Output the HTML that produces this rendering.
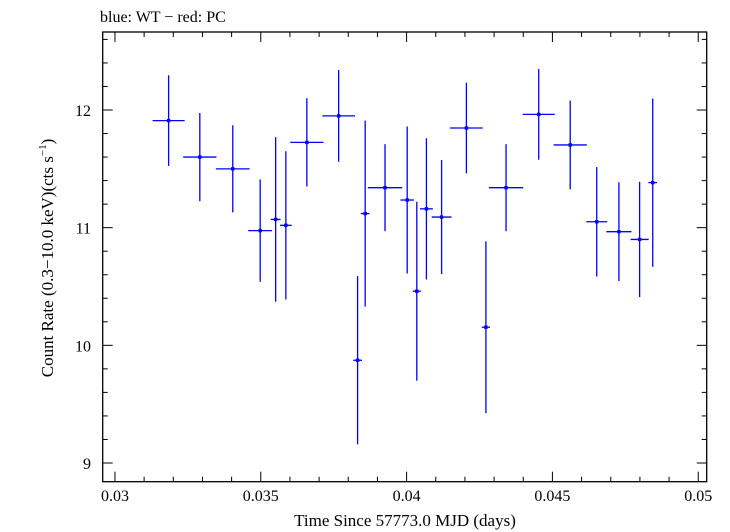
<!DOCTYPE html>
<html><head><meta charset="utf-8"><style>
html,body{margin:0;padding:0;background:#fff;}
svg{display:block;font-family:"Liberation Serif","DejaVu Serif",serif;}
</style></head><body>
<svg id="chart" width="730" height="532" viewBox="0 0 730 532" xmlns="http://www.w3.org/2000/svg">
<text x="100" y="22" font-size="16">blue: WT − red: PC</text>
<rect x="102.7" y="32" width="604" height="449.7" fill="none" stroke="#000" stroke-width="1.3"/>
<g id="ticks"></g>
<g id="marks"></g>
<text x="405" y="526" font-size="17" text-anchor="middle">Time Since 57773.0 MJD (days)</text>
<text transform="translate(53,258) rotate(-90)" font-size="17" text-anchor="middle">Count Rate (0.3−10.0 keV)(cts s<tspan font-size="11" dy="-7">−1</tspan><tspan dy="7">)</tspan></text>
</svg>
<script>
const xTicks = [0.03, 0.035, 0.04, 0.045, 0.05];
const xTickLabels = ["0.03", "0.035", "0.04", "0.045", "0.05"];
const yTicks = [9, 10, 11, 12];
const yTickLabels = ["9", "10", "11", "12"];
const times = [0.03184,0.03291,0.03404,0.03498,0.03551,0.03586,0.03658,0.03767,0.03832,0.03858,0.03926,0.04002,0.04035,0.04068,0.0412,0.04205,0.04272,0.04341,0.04453,0.04561,0.04652,0.04728,0.04799,0.04844];
const halfWidths = [0.00055,0.00057,0.00058,0.00041,0.00017,0.0002,0.00057,0.00056,0.00015,0.00015,0.00059,0.00023,0.00014,0.00022,0.00034,0.00056,0.00014,0.00059,0.00055,0.00057,0.00036,0.00043,0.00031,0.00015];
const rates = [11.91,11.60,11.50,10.975,11.07,11.02,11.725,11.95,9.873,11.12,11.34,11.235,10.46,11.16,11.09,11.847,10.154,11.34,11.963,11.703,11.05,10.966,10.90,11.383];
const rateErrs = [0.385,0.375,0.37,0.435,0.70,0.63,0.375,0.39,0.715,0.79,0.37,0.625,0.76,0.60,0.485,0.385,0.73,0.37,0.385,0.377,0.465,0.42,0.49,0.715];

const L=102.7,R=706.7,T=32,B=481.7;
const x0=0.02958,x1=0.05029,y0=8.841,y1=12.663;
const sx=v=>L+(v-x0)/(x1-x0)*(R-L);
const sy=v=>B-(v-y0)/(y1-y0)*(B-T);
const NS="http://www.w3.org/2000/svg";
function mk(tag,attrs,parent){const e=document.createElementNS(NS,tag);for(const k in attrs)e.setAttribute(k,attrs[k]);parent.appendChild(e);return e;}
const tg=document.getElementById('ticks');
// minor x ticks
for(let i=30;i<=50;i++){const v=i/1000;const X=sx(v);const major=i%5===0;const len=major?10:5;
 const a=mk('line',{x1:X,x2:X,y1:B,y2:B-len,stroke:'#000','stroke-width':1},tg);
 
 const b=mk('line',{x1:X,x2:X,y1:T,y2:T+len,stroke:'#000','stroke-width':1},tg);
 }
for(let i=45;i<=63;i++){const v=i/5;const Y=sy(v);const major=i%5===0;const len=major?10:5;
 const a=mk('line',{x1:L,x2:L+len,y1:Y,y2:Y,stroke:'#000','stroke-width':1},tg);
 
 const b=mk('line',{x1:R,x2:R-len,y1:Y,y2:Y,stroke:'#000','stroke-width':1},tg);
 }
xTicks.forEach((v,i)=>{const t=mk('text',{x:sx(v),y:501,'font-size':16,'text-anchor':'middle'},tg);t.textContent=xTickLabels[i];
 });
yTicks.forEach((v,i)=>{const t=mk('text',{x:91,y:sy(v)+6,'font-size':16,'text-anchor':'end'},tg);t.textContent=yTickLabels[i];
 });
const mg=document.getElementById('marks');
times.forEach((t,i)=>{const g=mk('g',{},mg);
 
 const X=sx(t),Y=sy(rates[i]);
 mk('line',{x1:sx(t-halfWidths[i]),x2:sx(t+halfWidths[i]),y1:Y,y2:Y,stroke:'#0000ff','stroke-width':1.3},g);
 mk('line',{x1:X,x2:X,y1:sy(rates[i]+rateErrs[i]),y2:sy(rates[i]-rateErrs[i]),stroke:'#0000ff','stroke-width':1.3},g);
 mk('rect',{x:X-1.7,y:Y-1.7,width:3.4,height:3.4,fill:'#0000ff'},g);
});
</script>
</body></html>
